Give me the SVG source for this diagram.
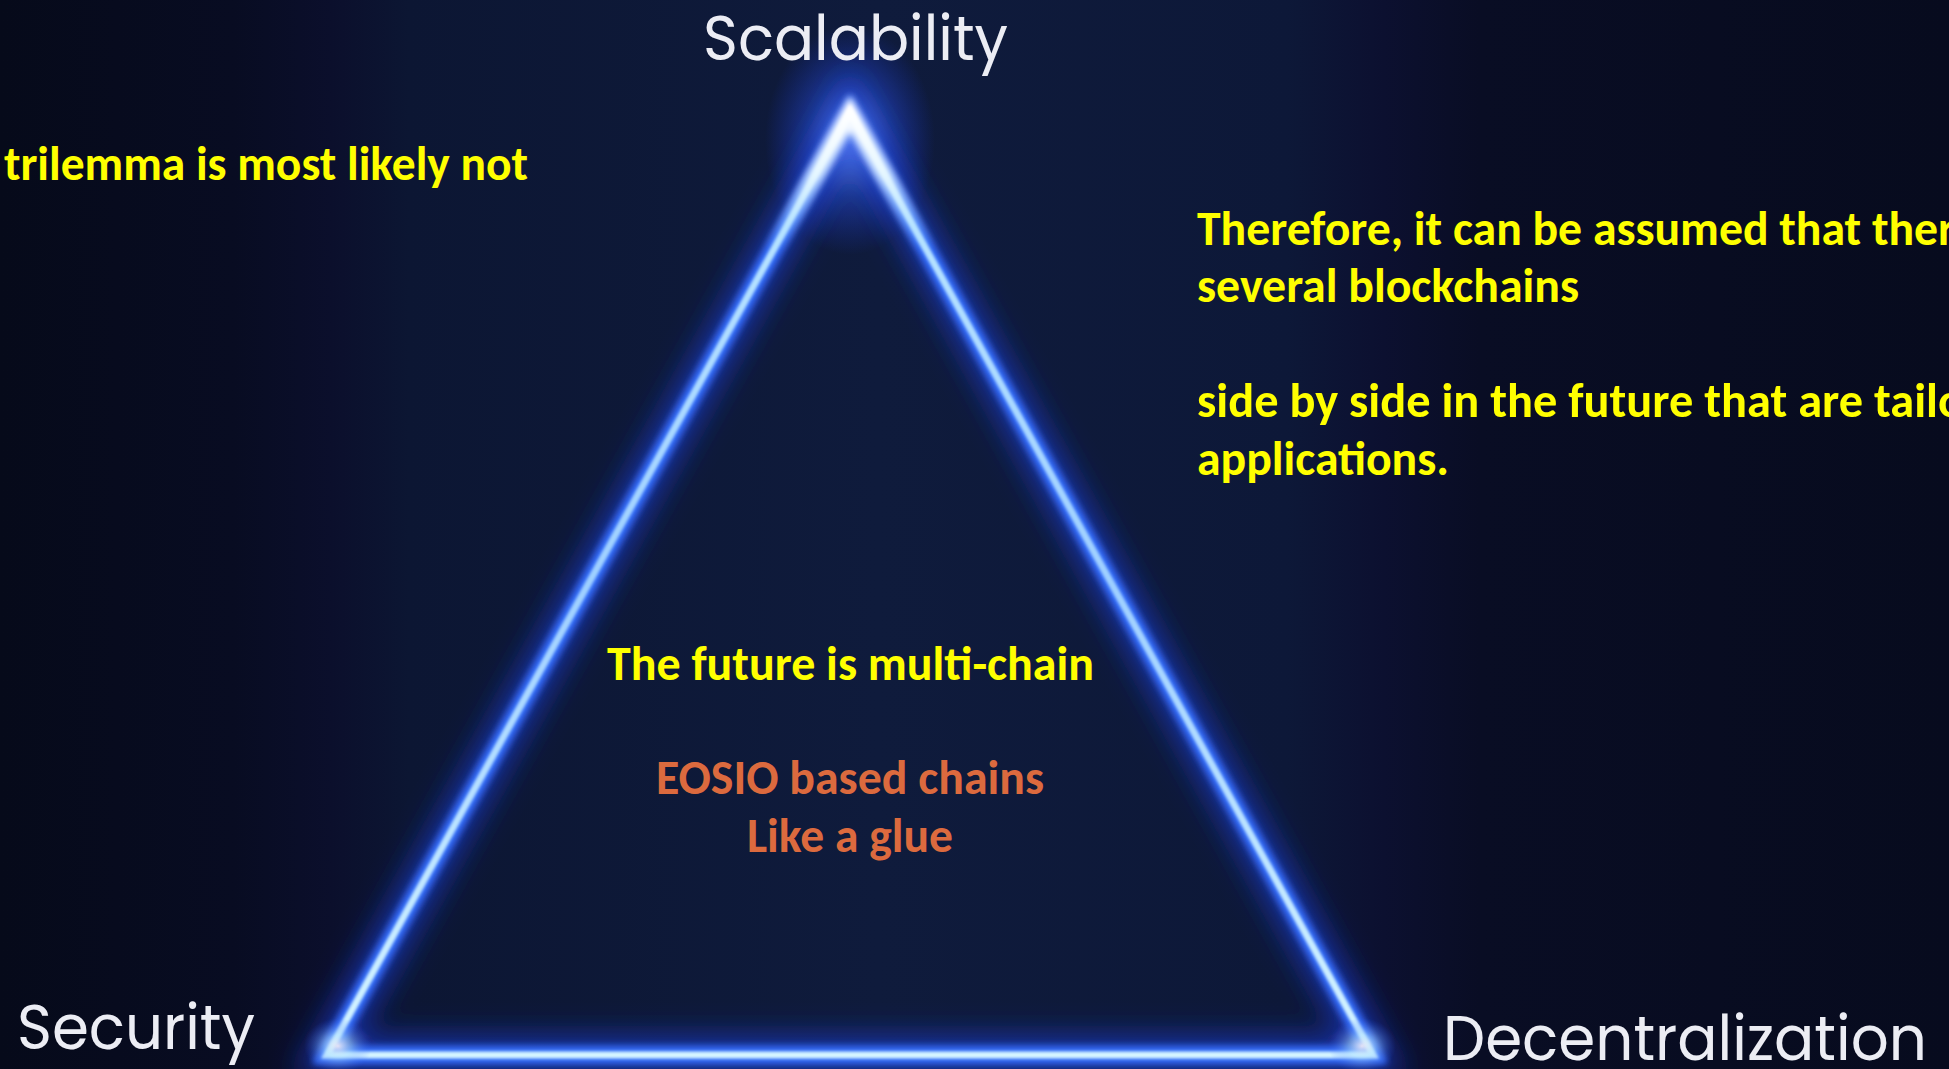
<svg xmlns="http://www.w3.org/2000/svg" width="1949" height="1069" viewBox="0 0 1949 1069">
  <defs>
    <linearGradient id="bg" x1="0" y1="0" x2="1" y2="0">
      <stop offset="0" stop-color="#060a1a"/>
      <stop offset="0.12" stop-color="#080c22"/>
      <stop offset="0.17" stop-color="#0b0f2c"/>
      <stop offset="0.21" stop-color="#0c1633"/>
      <stop offset="0.45" stop-color="#0f1b3c"/>
      <stop offset="0.66" stop-color="#0d1838"/>
      <stop offset="0.71" stop-color="#0c1030"/>
      <stop offset="0.76" stop-color="#090d24"/>
      <stop offset="1" stop-color="#070b1e"/>
    </linearGradient>
    <linearGradient id="coreGrad" x1="0" y1="112" x2="0" y2="1055" gradientUnits="userSpaceOnUse">
      <stop offset="0" stop-color="#ffffff"/>
      <stop offset="0.12" stop-color="#b8e4ff"/>
      <stop offset="0.5" stop-color="#9fd0ff"/>
      <stop offset="1" stop-color="#d6f6ff"/>
    </linearGradient>
    <linearGradient id="apexFade" x1="0" y1="112" x2="0" y2="250" gradientUnits="userSpaceOnUse">
      <stop offset="0" stop-color="#ffffff" stop-opacity="1"/>
      <stop offset="0.45" stop-color="#e8f8ff" stop-opacity="0.85"/>
      <stop offset="1" stop-color="#9fdcff" stop-opacity="0"/>
    </linearGradient>
    <radialGradient id="apexGlow" cx="0.5" cy="0.5" r="0.5">
      <stop offset="0" stop-color="#7fb0ff" stop-opacity="0.8"/>
      <stop offset="0.5" stop-color="#2f5cff" stop-opacity="0.4"/>
      <stop offset="1" stop-color="#1a3cff" stop-opacity="0"/>
    </radialGradient>
    <radialGradient id="cornerGlow" cx="0.5" cy="0.5" r="0.5">
      <stop offset="0" stop-color="#f4ecf4" stop-opacity="0.9"/>
      <stop offset="0.4" stop-color="#a8dcff" stop-opacity="0.5"/>
      <stop offset="1" stop-color="#2a5cff" stop-opacity="0"/>
    </radialGradient>
    <filter id="blurBig" x="-20%" y="-20%" width="140%" height="140%">
      <feGaussianBlur stdDeviation="14"/>
    </filter>
    <filter id="blurMid" x="-20%" y="-20%" width="140%" height="140%">
      <feGaussianBlur stdDeviation="3.5"/>
    </filter>
    <filter id="blurSoft" x="-20%" y="-20%" width="140%" height="140%">
      <feGaussianBlur stdDeviation="1.5"/>
    </filter>
  </defs>
  <style>
    .label { font-family: Poppins, "Open Sans", "Liberation Sans", sans-serif; fill: #ecedf4; font-size: 62px; }
    .yel { font-family: Calibri, Lato, "Liberation Sans", sans-serif; font-weight: 700; fill: #ffff00; font-size: 48px; }
    .org { font-family: Calibri, Lato, "Liberation Sans", sans-serif; font-weight: 700; fill: #dc6a3e; font-size: 48px; }
  </style>

  <rect x="0" y="0" width="1949" height="1069" fill="url(#bg)"/>

  <g id="connectors">
    <ellipse cx="850" cy="140" rx="85" ry="115" fill="url(#apexGlow)"/>
    <polygon points="850,112 327,1055 1373,1055" fill="none" stroke="#1e46ff" stroke-width="40" stroke-opacity="0.5" stroke-linejoin="miter" filter="url(#blurBig)"/>
    <polygon points="850,112 327,1055 1373,1055" fill="none" stroke="#3570ff" stroke-width="18" stroke-linejoin="miter" filter="url(#blurMid)"/>
    <polygon points="850,112 327,1055 1373,1055" fill="none" stroke="url(#coreGrad)" stroke-width="7" stroke-linejoin="miter" filter="url(#blurSoft)"/>
    <line x1="345" y1="1055" x2="1355" y2="1055" stroke="#e8fbff" stroke-width="7" filter="url(#blurSoft)"/>
    <polyline points="772,252 850,114 928,252" fill="none" stroke="url(#apexFade)" stroke-width="18" stroke-linejoin="miter" filter="url(#blurMid)"/>
    <ellipse cx="338" cy="1046" rx="34" ry="28" fill="url(#cornerGlow)"/>
    <ellipse cx="1362" cy="1046" rx="34" ry="28" fill="url(#cornerGlow)"/>
  </g>

  <g id="node-scalability">
    <text class="label" x="703" y="60" textLength="305" lengthAdjust="spacingAndGlyphs">Scalability</text>
  </g>
  <g id="node-security">
    <text class="label" x="17" y="1049" textLength="238" lengthAdjust="spacingAndGlyphs">Security</text>
  </g>
  <g id="node-decentralization">
    <text class="label" x="1443" y="1060" textLength="484" lengthAdjust="spacingAndGlyphs">Decentralization</text>
  </g>

  <g id="note-left">
    <text class="yel" x="4" y="180" textLength="524" lengthAdjust="spacingAndGlyphs">trilemma is most likely not</text>
  </g>

  <g id="note-right">
    <text class="yel" x="1197" y="245" textLength="758" lengthAdjust="spacingAndGlyphs">Therefore, it can be assumed that ther</text>
    <text class="yel" x="1197" y="302" textLength="382" lengthAdjust="spacingAndGlyphs">several blockchains</text>
    <text class="yel" x="1197" y="417" textLength="767" lengthAdjust="spacingAndGlyphs">side by side in the future that are tailo</text>
    <text class="yel" x="1197" y="475" textLength="252" lengthAdjust="spacingAndGlyphs">applications.</text>
  </g>

  <g id="node-center">
    <text class="yel" x="607" y="680" textLength="487" lengthAdjust="spacingAndGlyphs">The future is multi-chain</text>
    <text class="org" x="656" y="794" textLength="388" lengthAdjust="spacingAndGlyphs">EOSIO based chains</text>
    <text class="org" x="747" y="852" textLength="206" lengthAdjust="spacingAndGlyphs">Like a glue</text>
  </g>
</svg>
